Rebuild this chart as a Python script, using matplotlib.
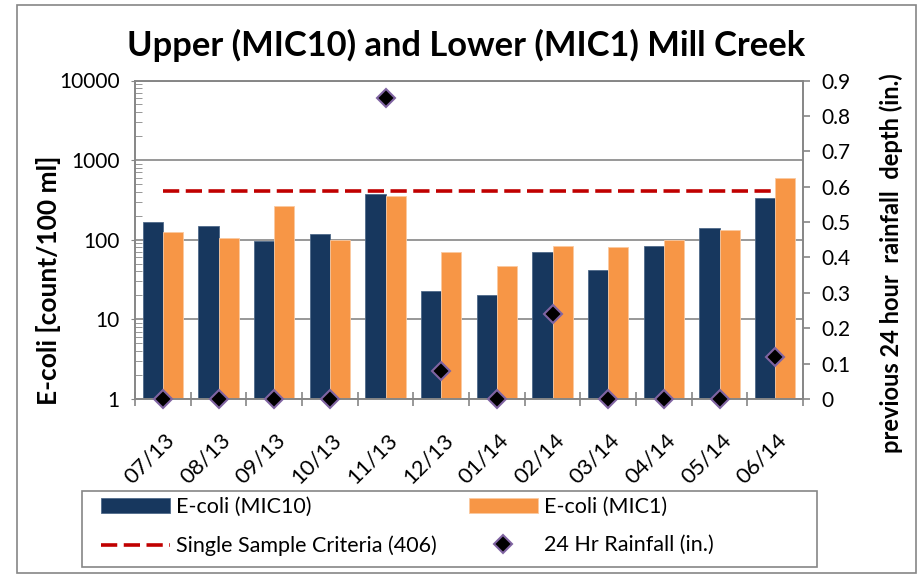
import numpy as np
import matplotlib
matplotlib.use("Agg")
import matplotlib.pyplot as plt
from matplotlib.patches import Rectangle
from matplotlib.lines import Line2D
from matplotlib.ticker import FixedLocator, NullFormatter

plt.rcParams['font.family'] = ['Lato', 'DejaVu Sans']

# data
months = ['07/13', '08/13', '09/13', '10/13', '11/13', '12/13',
          '01/14', '02/14', '03/14', '04/14', '05/14', '06/14']
ecoli_mic10 = [169, 150, 96, 119, 378, 23, 20, 71, 42, 84, 142, 337]
ecoli_mic1 = [126, 106, 267, 100, 357, 71, 47, 84, 80, 100, 134, 594]
criteria = 406
rainfall = [0, 0, 0, 0, 0.85, 0.08, 0, 0.24, 0, 0, 0, 0.12]

navy = '#17375E'
orange = '#F79646'
red = '#C00000'
gray = '#868686'

W, H = 918, 576
fig = plt.figure(figsize=(W / 100, H / 100), dpi=100)

# chart area border
fig.patches.append(Rectangle((17 / W, 1 - 573 / H), 899 / W, 568 / H,
                             transform=fig.transFigure, fill=False,
                             edgecolor=gray, linewidth=1.2))

ax = fig.add_axes([135 / W, 1 - 399 / H, 668 / W, 318.5 / H])
x = np.arange(len(months))
bw = 0.36
b1 = ax.bar(x - bw / 2, ecoli_mic10, bw, color=navy, edgecolor='#4F6A8A', linewidth=0.6, zorder=2)
b2 = ax.bar(x + bw / 2, ecoli_mic1, bw, color=orange, edgecolor='#FBC9A0', linewidth=0.6, zorder=2)
ln, = ax.plot(x, [criteria] * len(x), color=red, linestyle=(0, (4.5, 1.8)), linewidth=2.6, zorder=3)

ax.set_yscale('log')
ax.set_ylim(1, 10000)
ax.set_xlim(-0.5, len(months) - 0.5)
ax.yaxis.grid(True, which='major', color=gray, linewidth=1.2)
ax.set_axisbelow(True)
ax.set_yticks([1, 10, 100, 1000, 10000])
ax.set_yticklabels(['1', '10', '100', '1000', '10000'])
ax.yaxis.set_minor_formatter(NullFormatter())
ax.tick_params(axis='y', which='major', direction='out', length=3, color=gray, labelsize=15, pad=8)
ax.tick_params(axis='y', which='minor', direction='in', length=5, color=gray)

# category labels hanging from each category centre
ax.set_xticks(x)
ax.set_xticklabels([])
ax.xaxis.set_minor_locator(FixedLocator(np.arange(-0.5, len(months), 1.0)))
ax.tick_params(axis='x', which='major', length=0)
ax.tick_params(axis='x', which='minor', direction='inout', length=10, color=gray, width=1.2)
for i, m in enumerate(months):
    ax.annotate(m, xy=(i, 0), xycoords=('data', 'axes fraction'),
                xytext=(1, -22), textcoords='offset points', fontsize=16,
                rotation=45, ha='right', va='top', rotation_mode='anchor',
                annotation_clip=False)

for s in ['left', 'bottom', 'right', 'top']:
    ax.spines[s].set_color(gray)
    ax.spines[s].set_linewidth(1.2)

ax2 = ax.twinx()
rain, = ax2.plot(x, rainfall, linestyle='none', marker='D', markersize=9,
                 markerfacecolor='black', markeredgecolor='#8064A2',
                 markeredgewidth=1.5, clip_on=False, zorder=5)
ax2.set_ylim(0, 0.9)
ax2.set_yticks(np.arange(0, 0.91, 0.1))
ax2.set_yticklabels(['0'] + ['%.1f' % v for v in np.arange(0.1, 0.91, 0.1)])
ax2.tick_params(axis='y', direction='out', length=5, color=gray, width=1.2, labelsize=15, pad=8)
for s in ['left', 'bottom', 'right', 'top']:
    ax2.spines[s].set_color(gray)
    ax2.spines[s].set_linewidth(1.2)

fig.text(466 / W, 1 - 45 / H, 'Upper (MIC10) and Lower (MIC1) Mill Creek',
         ha='center', va='center', fontsize=24.8, fontweight='bold')
fig.text(49 / W, 1 - 280 / H, 'E-coli [count/100 ml]', rotation=90,
         ha='center', va='center', fontsize=19, fontweight='bold')
fig.text(891 / W, 1 - 263 / H, 'previous 24 hour  rainfall  depth (in.)', rotation=90,
         ha='center', va='center', fontsize=17, fontweight='bold')

# legend box
fig.patches.append(Rectangle((82 / W, 1 - 567 / H), 735 / W, 76 / H,
                             transform=fig.transFigure, fill=False,
                             edgecolor=gray, linewidth=1.2))
crit_h = Line2D([], [], color=red, linestyle=(0, (4.5, 1.8)), linewidth=2.6)
rain_h = Line2D([], [], linestyle='none', marker='D', markersize=9,
                markerfacecolor='black', markeredgecolor='#8064A2', markeredgewidth=1.5)
leg_kw = dict(loc='upper left', frameon=False, fontsize=15.5, handlelength=3.2,
              handleheight=0.65, handletextpad=0.3, labelspacing=0.85,
              borderpad=0, borderaxespad=0)
fig.legend([b1, crit_h], ['E-coli (MIC10)', 'Single Sample Criteria (406)'],
           bbox_to_anchor=(101 / W, 1 - 497 / H), **leg_kw)
fig.legend([b2, rain_h], ['E-coli (MIC1)', '24 Hr Rainfall (in.)'],
           bbox_to_anchor=(469 / W, 1 - 497 / H), **leg_kw)

fig.savefig('out.png', dpi=100)
